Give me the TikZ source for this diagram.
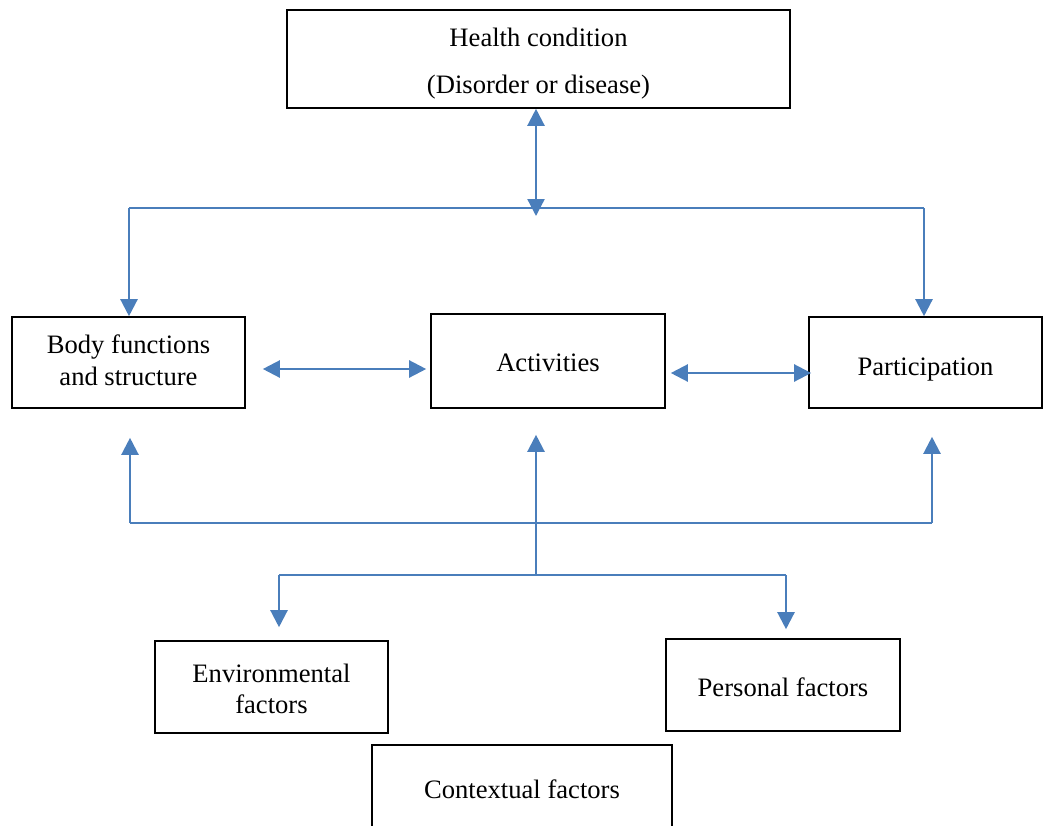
\documentclass[tikz,border=0pt]{standalone}
\usepackage{fontspec}
\setmainfont{Liberation Serif}
\usetikzlibrary{arrows.meta}
\definecolor{linkblue}{HTML}{4A7EBB}
\begin{document}
\begin{tikzpicture}[x=1pt,y=-1pt,
  box/.style={draw=black, line width=1.6pt, inner sep=0pt, align=center,
    font=\fontsize{26.6}{32}\selectfont},
  link/.style={draw=linkblue, line width=2.3pt},
  tipend/.style={-{Triangle[width=17pt,length=17pt]}},
  tipboth/.style={{Triangle[width=17pt,length=17pt]}-{Triangle[width=17pt,length=17pt]}}]
\useasboundingbox (0,0) rectangle (1043,825);
\clip (0,0) rectangle (1043,825);

% boxes (invisible rules fine-tune where the text sits in each box)
\node[box, minimum width=503pt, minimum height=98pt,
  font=\fontsize{26.6}{47}\selectfont] (health) at (538.5,59)
  {\rule{0pt}{28.5pt}Health condition\\(Disorder or disease)};
\node[box, minimum width=233pt, minimum height=91pt] (body) at (128.5,362.5)
  {Body functions\\and structure\rule[-4pt]{0pt}{4pt}};
\node[box, minimum width=234pt, minimum height=94pt] (act) at (548,361)
  {\rule{0pt}{22pt}Activities};
\node[box, minimum width=233pt, minimum height=91pt] (part) at (925.5,362.5)
  {\rule{0pt}{32pt}Participation};
\node[box, minimum width=233pt, minimum height=92pt,
  font=\fontsize{26.6}{31}\selectfont] (env) at (271.5,687)
  {\rule{0pt}{22.5pt}Environmental\\factors};
\node[box, minimum width=234pt, minimum height=92pt] (pers) at (783,685)
  {\rule{0pt}{24pt}Personal factors};
\node[box, minimum width=300pt, minimum height=88pt] (ctx) at (522,789)
  {Contextual factors};

% junction points
\coordinate (hcTip) at (536,216);
\coordinate (topL) at (129,208);
\coordinate (topR) at (924,208);
\coordinate (botL) at (130,523);
\coordinate (botR) at (932,523);
\coordinate (split) at (536,575);
\coordinate (splitL) at (279,575);
\coordinate (splitR) at (786,575);
\coordinate (rowA) at (0,369);
\coordinate (rowB) at (0,373);

% health condition to the three components
\draw[link, tipboth] (health.south -| hcTip) -- (hcTip);
\draw[link] (topL) -- (topR);
\draw[link, tipend] (topL) -- (body.north -| topL);
\draw[link, tipend] (topR) -- (part.north -| topR);

% links between components
\draw[link, tipboth, shorten <=17pt, shorten >=4pt] (body.east |- rowA) -- (act.west |- rowA);
\draw[link, tipboth, shorten <=5pt, shorten >=-3pt] (act.east |- rowB) -- (part.west |- rowB);

% contextual factors back to components
\draw[link] (botL) -- (botR);
\draw[link, tipend, shorten >=29pt] (botL) -- (body.south -| botL);
\draw[link, tipend, shorten >=28pt] (botR) -- (part.south -| botR);
\draw[link, tipend, shorten >=26pt] (split) -- (act.south -| split);
\draw[link] (splitL) -- (splitR);
\draw[link, tipend, shorten >=13pt] (splitL) -- (env.north -| splitL);
\draw[link, tipend, shorten >=9pt] (splitR) -- (pers.north -| splitR);
\end{tikzpicture}
\end{document}
